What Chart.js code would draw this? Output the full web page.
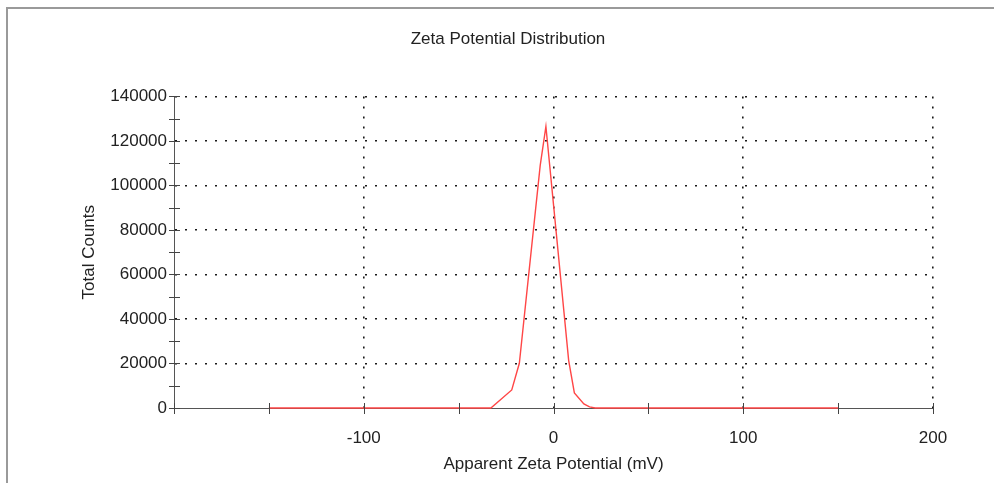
<!DOCTYPE html>
<html>
<head>
<meta charset="utf-8">
<script src="https://cdn.jsdelivr.net/npm/chart.js@4.4.0/dist/chart.umd.min.js"></script>
<style>
  html, body {margin: 0; padding: 0; background: #fff;}
  #wrap {position: relative; width: 994px; height: 483px;}
  #frame {position: absolute; left: 6px; top: 7px; right: 0; bottom: 0; border-top: 2px solid #9a9a9a; border-left: 2px solid #9a9a9a;}
  canvas {position: absolute; left: 0; top: 0;}
</style>
</head>
<body>
<div id="wrap">
  <div id="frame"></div>
  <canvas id="grafico" width="994" height="483"></canvas>
</div>
<script>
// Zeta potential (mV) and total counts
const potencial = [-150, -100, -50, -33, -22, -18, -7, -4, 8, 11, 16, 19, 22, 50, 100, 150];
const cuentas = [0, 0, 0, 0, 8100, 20100, 109000, 126500, 21300, 6800, 1800, 500, 0, 0, 0, 0];
const ticksX = [-100, 0, 100, 200];
const ticksY = [0, 20000, 40000, 60000, 80000, 100000, 120000, 140000];

const fuente = {family: '"Liberation Sans", Arial, sans-serif', size: 17, weight: 'normal'};
const punteado = '#1a1a1a';

// small crossing tick marks on both axes
const marcas = {
  id: 'marcas',
  afterDraw(chart) {
    const {ctx, scales: {x, y}} = chart;
    ctx.save();
    ctx.strokeStyle = '#444';
    ctx.lineWidth = 1;
    ctx.beginPath();
    const y0 = y.getPixelForValue(0);
    x.ticks.forEach(t => {
      const px = Math.round(x.getPixelForValue(t.value)) + 0.5;
      ctx.moveTo(px, y0 - 5);
      ctx.lineTo(px, y0 + 6);
    });
    const x0 = x.getPixelForValue(-200);
    y.ticks.forEach(t => {
      const py = Math.round(y.getPixelForValue(t.value)) + 0.5;
      ctx.moveTo(x0 - 5, py);
      ctx.lineTo(x0 + 6, py);
    });
    ctx.stroke();
    ctx.restore();
  }
};

new Chart(document.getElementById('grafico'), {
  type: 'line',
  data: {
    datasets: [{
      data: potencial.map((v, i) => ({x: v, y: cuentas[i]})),
      borderColor: 'rgb(255, 70, 70)',
      borderWidth: 1.4,
      pointRadius: 0,
      tension: 0,
      clip: false
    }]
  },
  options: {
    responsive: false,
    animation: false,
    layout: {padding: {left: 22, right: 0, top: 0, bottom: 0}},
    plugins: {
      legend: {display: false},
      tooltip: {enabled: false},
      title: {display: true, text: 'Zeta Potential Distribution', color: '#222', font: fuente, padding: {top: 29, bottom: 47}}
    },
    scales: {
      x: {
        type: 'linear', min: -200, max: 200,
        afterFit: s => { s.height = 75; },
        ticks: {
          stepSize: 50, color: '#222', font: fuente, padding: 20, maxRotation: 0, autoSkip: false,
          callback: v => ticksX.includes(v) ? String(v) : ''
        },
        grid: {
          drawTicks: false, lineWidth: 1.6,
          color: c => (c.tick && ticksX.includes(c.tick.value)) ? punteado : 'rgba(0,0,0,0)'
        },
        border: {display: true, color: '#555', width: 1, dash: [2, 8]},
        title: {display: true, text: 'Apparent Zeta Potential (mV)', color: '#222', font: fuente, padding: {top: 0, bottom: 8}}
      },
      y: {
        type: 'linear', min: 0, max: 140000,
        afterFit: s => { s.width = 152; },
        ticks: {
          stepSize: 10000, color: '#222', font: fuente, padding: 7, autoSkip: false,
          callback: v => ticksY.includes(v) ? String(v) : ''
        },
        grid: {
          drawTicks: false, lineWidth: 1.6,
          color: c => (c.tick && c.tick.value > 0 && ticksY.includes(c.tick.value)) ? punteado : 'rgba(0,0,0,0)'
        },
        border: {display: true, color: '#555', width: 1, dash: [2, 8]},
        title: {display: true, text: 'Total Counts', color: '#222', font: fuente, padding: {top: 57, bottom: 0}}
      },
      derecha: {
        type: 'linear', position: 'right', display: true,
        afterFit: s => { s.width = 61; },
        grid: {display: false, drawTicks: false},
        ticks: {display: false},
        border: {display: false}
      }
    }
  },
  plugins: [marcas]
});
</script>
</body>
</html>
